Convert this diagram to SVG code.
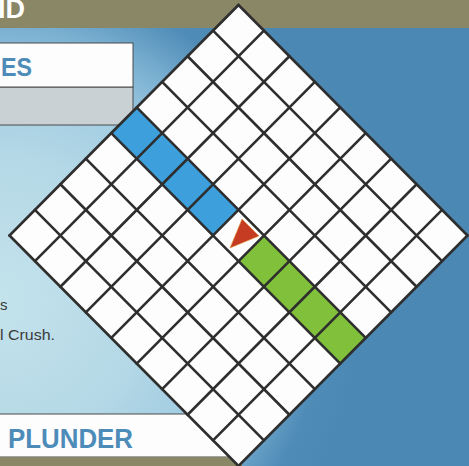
<svg xmlns="http://www.w3.org/2000/svg" width="469" height="466" viewBox="0 0 469 466">
<defs>
<radialGradient id="bg" gradientUnits="userSpaceOnUse" cx="0" cy="300" r="360">
<stop offset="0" stop-color="#c4e3ec"/>
<stop offset="0.4" stop-color="#b4d8e6"/>
<stop offset="0.6" stop-color="#a2cde2"/>
<stop offset="0.75" stop-color="#7cb1d2"/>
<stop offset="0.9" stop-color="#4f8cb7"/>
<stop offset="1" stop-color="#4b88b3"/>
</radialGradient>
</defs>
<style>
.olive{fill:#8a8766}
.box{fill:#fdfdfd;stroke:#4a4a4a;stroke-width:1}
.head{font-family:"Liberation Sans",Arial,sans-serif;font-weight:bold;fill:#4d8cb8}
.body{font-family:"Liberation Sans",Arial,sans-serif;font-size:15px;fill:#3a3a3a}
.grid line{stroke:#2e2e2e;stroke-width:2.6;stroke-linecap:round}
.blue{fill:#3da0dc}
.green{fill:#80c03a}
</style>
<rect x="0" y="0" width="469" height="466" fill="url(#bg)"/>
<rect class="olive" x="0" y="0" width="469" height="28"/>
<text x="-2" y="18" font-family="Liberation Sans, Arial, sans-serif" font-weight="bold" font-size="27" fill="#ffffff">ID</text>
<g id="es-box">
<rect x="-2" y="87" width="135" height="38" fill="#c9d1d4" stroke="#4a4a4a" stroke-width="1"/>
<rect class="box" x="-2" y="43" width="135" height="44"/>
<text class="head" x="1" y="76" font-size="25" textLength="31" lengthAdjust="spacingAndGlyphs">ES</text>
</g>
<text class="body" x="0" y="310">s</text>
<text class="body" x="0" y="340" textLength="55" lengthAdjust="spacingAndGlyphs">l Crush.</text>
<g id="plunder-box">
<rect class="box" x="-2" y="414" width="244" height="43"/>
<rect class="olive" x="0" y="457" width="242" height="9"/>
<text class="head" x="8" y="448" font-size="27" textLength="125" lengthAdjust="spacingAndGlyphs">PLUNDER</text>
</g>
<g id="board">
<polygon points="238.5,5 467.5,235.5 238.5,466 9.5,235.5" fill="#fdfdfd"/>
<polygon class="blue" points="136.72,107.44 238.5,209.89 213.06,235.5 111.28,133.06"/>
<polygon class="green" points="263.94,235.5 365.72,337.94 340.28,363.56 238.5,261.11"/>
<g class="grid">
<line x1="238.5" y1="5" x2="9.5" y2="235.5"/>
<line x1="263.94" y1="30.61" x2="34.94" y2="261.11"/>
<line x1="289.39" y1="56.22" x2="60.39" y2="286.72"/>
<line x1="314.83" y1="81.83" x2="85.83" y2="312.33"/>
<line x1="340.28" y1="107.44" x2="111.28" y2="337.94"/>
<line x1="365.72" y1="133.06" x2="136.72" y2="363.56"/>
<line x1="391.17" y1="158.67" x2="162.17" y2="389.17"/>
<line x1="416.61" y1="184.28" x2="187.61" y2="414.78"/>
<line x1="442.06" y1="209.89" x2="213.06" y2="440.39"/>
<line x1="467.5" y1="235.5" x2="238.5" y2="466"/>
<line x1="238.5" y1="5" x2="467.5" y2="235.5"/>
<line x1="213.06" y1="30.61" x2="442.06" y2="261.11"/>
<line x1="187.61" y1="56.22" x2="416.61" y2="286.72"/>
<line x1="162.17" y1="81.83" x2="391.17" y2="312.33"/>
<line x1="136.72" y1="107.44" x2="365.72" y2="337.94"/>
<line x1="111.28" y1="133.06" x2="340.28" y2="363.56"/>
<line x1="85.83" y1="158.67" x2="314.83" y2="389.17"/>
<line x1="60.39" y1="184.28" x2="289.39" y2="414.78"/>
<line x1="34.94" y1="209.89" x2="263.94" y2="440.39"/>
<line x1="9.5" y1="235.5" x2="238.5" y2="466"/>
</g>
<polygon id="marker" points="242,219 259,236 230,248" fill="#c63c22" stroke="#e0a040" stroke-width="0.6" stroke-linejoin="round"/>
</g>
</svg>
